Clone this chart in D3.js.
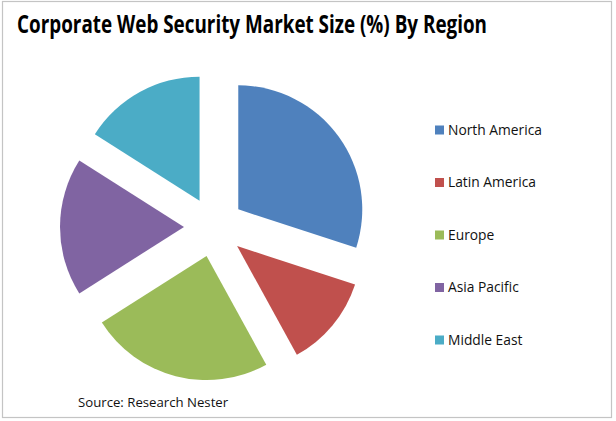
<!DOCTYPE html>
<html>
<head>
<meta charset="utf-8">
<script src="https://cdn.jsdelivr.net/npm/d3@7"></script>
<style>
  body { margin: 0; background: #fff; }
  svg { display: block; }
</style>
</head>
<body>
<svg id="chart" width="616" height="421"></svg>
<script>
// values (share of market, %)
const regions = ['North America', 'Latin America', 'Europe', 'Asia Pacific', 'Middle East'];
const shares = [30, 12, 24, 18, 16];

const palette = ['#4F81BD', '#C0504D', '#9BBB59', '#8064A2', '#4BACC6'];

const svg = d3.select('#chart');

// outer frame
svg.append('rect')
    .attr('x', 2.5).attr('y', 1.5)
    .attr('width', 609).attr('height', 416)
    .attr('fill', '#fff')
    .attr('stroke', '#c4c4c4')
    .attr('stroke-width', 1.2);

// title: narrow-ish bold face, stretched a bit vertically to look like Calibri
svg.append('g')
    .attr('transform', 'translate(17,33) scale(1,1.35)')
  .append('text')
    .attr('x', 0)
    .attr('y', 0)
    .attr('font-family', 'Open Sans, sans-serif')
    .attr('font-weight', 'bold')
    .attr('font-size', 18)
    .attr('textLength', 470)
    .attr('lengthAdjust', 'spacingAndGlyphs')
    .attr('fill', '#000')
    .text('Corporate Web Security Market Size (%) By Region');

const cx = 214, cy = 227, r = 124, explode = 30;
const color = d3.scaleOrdinal().domain(regions).range(palette);

const pie = d3.pie().sort(null).value(d => d.v);
const arc = d3.arc().innerRadius(0).outerRadius(r);
const slices = pie(regions.map((k, i) => ({ k, v: shares[i] })));

const g = svg.append('g').attr('transform', `translate(${cx},${cy})`);
g.selectAll('path')
  .data(slices)
  .enter()
  .append('path')
    .attr('d', arc)
    .attr('fill', d => color(d.data.k))
    .attr('transform', d => {
      let a = (d.startAngle + d.endAngle) / 2;
      return `translate(${explode * Math.sin(a)},${-explode * Math.cos(a)})`;
    });

// legend
const legend = d3.scalePoint().domain(regions).range([130, 340]);
const item = svg.selectAll('.leg')
  .data(regions)
  .enter()
  .append('g')
    .attr('class', 'leg')
    .attr('transform', d => `translate(435,${legend(d)})`);
item.append('rect')
    .attr('x', 0).attr('y', -4.5)
    .attr('width', 9).attr('height', 9)
    .attr('fill', d => color(d));
item.append('text')
    .attr('x', 13)
    .attr('y', 0)
    .attr('dy', '0.35em')
    .attr('font-family', 'Open Sans, sans-serif')
    .attr('font-size', 13.8)
    .attr('fill', '#111')
    .text(d => d);

svg.append('text')
    .attr('x', 78)
    .attr('y', 402)
    .attr('dy', '0.35em')
    .attr('font-family', 'Open Sans, sans-serif')
    .attr('font-size', 13.2)
    .attr('fill', '#111')
    .text('Source: Research Nester');
</script>
</body>
</html>
